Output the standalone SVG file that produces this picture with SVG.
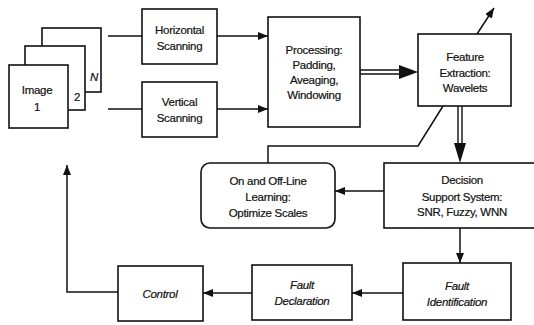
<svg xmlns="http://www.w3.org/2000/svg" width="534" height="325" viewBox="0 0 534 325">
  <style>
    .box { fill: #fff; stroke: #111; stroke-width: 1.6; }
    .ln { fill: none; stroke: #111; stroke-width: 1.5; }
    .dbl { fill: none; stroke: #111; stroke-width: 1.4; }
    text { font-family: "Liberation Sans", Arial, sans-serif; font-size: 11.5px; fill: #111; stroke: #111; stroke-width: 0.2; text-anchor: middle; letter-spacing: -0.3px; }
    .it { font-style: italic; }
  </style>
  <defs>
    <marker id="arr" markerWidth="10" markerHeight="8" refX="10" refY="4" orient="auto" markerUnits="userSpaceOnUse">
      <path d="M0,0 L10,4 L0,8 Z" fill="#111"/>
    </marker>
  </defs>

  <!-- stacked image pages -->
  <g id="images">
    <rect class="box" x="42" y="28" width="59" height="64"/>
    <rect class="box" x="25" y="46" width="60" height="64"/>
    <rect class="box" x="9" y="65" width="59" height="63"/>
    <text x="37" y="94">Image</text>
    <text x="37" y="111">1</text>
    <text x="77" y="101">2</text>
    <text x="94" y="81" class="it">N</text>
  </g>

  <g id="horizontal">
    <rect class="box" x="142" y="9" width="75" height="55"/>
    <text x="179.5" y="34">Horizontal</text>
    <text x="179.5" y="50">Scanning</text>
  </g>

  <g id="vertical">
    <rect class="box" x="142" y="82" width="75" height="55"/>
    <text x="179.5" y="106">Vertical</text>
    <text x="179.5" y="122">Scanning</text>
  </g>

  <g id="processing">
    <rect class="box" x="268" y="17" width="92" height="110"/>
    <text x="314" y="54">Processing:</text>
    <text x="314" y="69">Padding,</text>
    <text x="314" y="84">Aveaging,</text>
    <text x="314" y="99">Windowing</text>
  </g>

  <g id="feature">
    <rect class="box" x="418" y="34" width="93" height="72"/>
    <text x="465" y="61">Feature</text>
    <text x="465" y="77">Extraction:</text>
    <text x="465" y="92">Wavelets</text>
  </g>

  <g id="decision">
    <rect class="box" x="384" y="163" width="156" height="65"/>
    <text x="462" y="184">Decision</text>
    <text x="462" y="201">Support System:</text>
    <text x="462" y="216">SNR, Fuzzy, WNN</text>
  </g>

  <g id="learning">
    <rect class="box" x="201" y="163" width="134" height="65" rx="9" ry="9"/>
    <text x="268" y="185">On and Off-Line</text>
    <text x="268" y="201">Learning:</text>
    <text x="268" y="217">Optimize Scales</text>
  </g>

  <g id="identification">
    <rect class="box" x="403" y="263" width="108" height="57"/>
    <text x="457" y="290" class="it">Fault</text>
    <text x="457" y="306" class="it">Identification</text>
  </g>

  <g id="declaration">
    <rect class="box" x="252" y="265" width="100" height="55"/>
    <text x="302" y="289" class="it">Fault</text>
    <text x="302" y="305" class="it">Declaration</text>
  </g>

  <g id="control">
    <rect class="box" x="118" y="266" width="85" height="55"/>
    <text x="160" y="298" class="it">Control</text>
  </g>

  <g id="connectors">
    <!-- images to scanners -->
    <path class="ln" d="M108,36 H142"/>
    <path class="ln" d="M108,109 H142"/>
    <!-- scanners to processing -->
    <path class="ln" d="M217,36 H268" marker-end="url(#arr)"/>
    <path class="ln" d="M217,109 H268" marker-end="url(#arr)"/>
    <!-- processing to feature extraction (double) -->
    <path class="dbl" d="M360,70 H401 M360,74 H401"/>
    <path d="M399,65 L418,72 L399,79 Z" fill="#111"/>
    <!-- feature extraction output -->
    <path class="ln" d="M477,34 L494,8" marker-end="url(#arr)"/>
    <!-- feature extraction to decision (double) -->
    <path class="dbl" d="M458,106 V146 M462,106 V146"/>
    <path d="M454,143 L460,163 L466,143 Z" fill="#111"/>
    <!-- feature extraction to learning -->
    <path class="ln" d="M443,106 L418,146 H268 V163"/>
    <!-- decision to learning -->
    <path class="ln" d="M384,191 H335" marker-end="url(#arr)"/>
    <!-- decision to identification -->
    <path class="ln" d="M460,228 V263" marker-end="url(#arr)"/>
    <!-- identification to declaration -->
    <path class="ln" d="M403,293 H352" marker-end="url(#arr)"/>
    <!-- declaration to control -->
    <path class="ln" d="M252,293 H203" marker-end="url(#arr)"/>
    <!-- control feedback -->
    <path class="ln" d="M118,292 H67 V165" marker-end="url(#arr)"/>
  </g>
</svg>
